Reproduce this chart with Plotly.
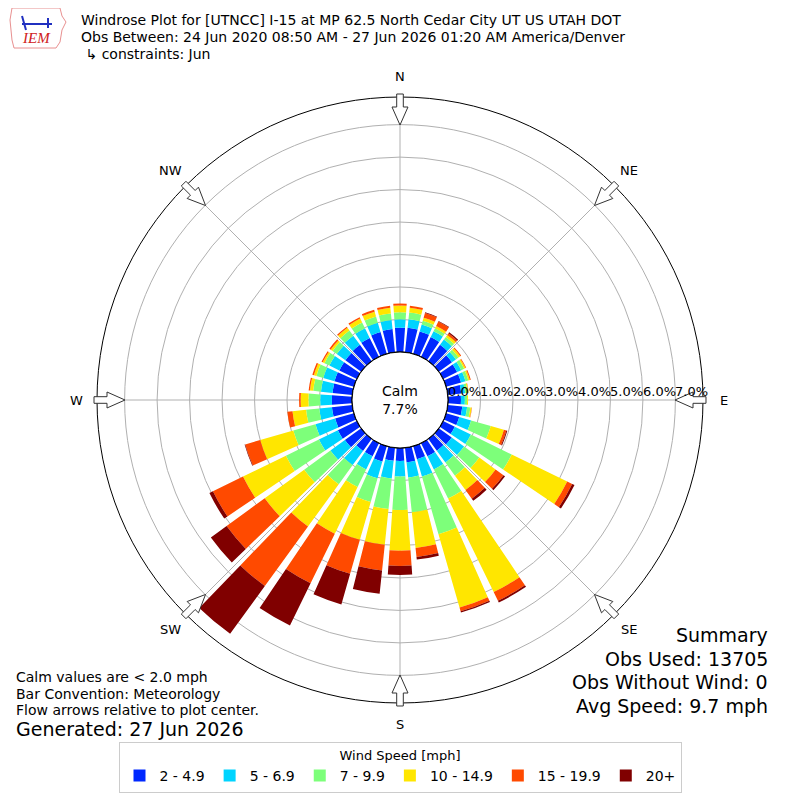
import math
import plotly.graph_objects as go

# wind direction bins (degrees, meteorological) and frequency (%) per speed class
directions = [0, 10, 20, 30, 40, 50, 60, 70, 80, 90, 100, 110, 120, 130, 140, 150, 160, 170,
              180, 190, 200, 210, 220, 230, 240, 250, 260, 270, 280, 290, 300, 310, 320, 330, 340, 350]

spd_2_5 = [0.75, 0.76, 0.72, 0.68, 0.62, 0.50, 0.48, 0.48, 0.42, 0.40, 0.45, 0.42, 0.40, 0.49, 0.45, 0.45, 0.42, 0.45,
           0.40, 0.40, 0.49, 0.45, 0.46, 0.62, 0.65, 0.60, 0.63, 0.62, 0.61, 0.62, 0.60, 0.60, 0.62, 0.65, 0.70, 0.72]
spd_5_7 = [0.26, 0.26, 0.22, 0.20, 0.20, 0.15, 0.14, 0.14, 0.12, 0.12, 0.15, 0.38, 0.55, 0.47, 0.45, 0.45, 0.55, 0.47,
           0.48, 0.55, 0.54, 0.45, 0.54, 0.55, 0.65, 0.63, 0.39, 0.36, 0.36, 0.36, 0.34, 0.33, 0.35, 0.33, 0.30, 0.28]
spd_7_10 = [0.21, 0.21, 0.12, 0.10, 0.10, 0.10, 0.10, 0.09, 0.07, 0.07, 0.10, 0.63, 1.40, 0.58, 0.50, 1.00, 1.85, 1.08,
            1.03, 0.95, 0.76, 0.60, 0.73, 1.00, 1.13, 0.71, 0.41, 0.36, 0.24, 0.22, 0.17, 0.16, 0.20, 0.20, 0.20, 0.20]
spd_10_15 = [0.21, 0.15, 0.10, 0.08, 0.08, 0.07, 0.05, 0.05, 0.03, 0.03, 0.04, 0.42, 1.90, 0.62, 0.55, 3.20, 2.35, 1.10,
             1.25, 1.10, 1.21, 1.60, 1.61, 1.50, 1.47, 1.06, 0.42, 0.24, 0.10, 0.08, 0.06, 0.07, 0.10, 0.13, 0.15, 0.18]
spd_15_20 = [0.06, 0.06, 0.15, 0.15, 0.06, 0.03, 0.02, 0.03, 0.01, 0.00, 0.01, 0.08, 0.17, 0.30, 0.33, 0.30, 0.12, 0.28,
             0.47, 0.80, 1.09, 1.70, 2.26, 1.45, 1.03, 0.48, 0.16, 0.05, 0.04, 0.05, 0.04, 0.05, 0.04, 0.05, 0.06, 0.06]
spd_20p = [0.00, 0.00, 0.02, 0.02, 0.04, 0.00, 0.00, 0.00, 0.00, 0.00, 0.00, 0.03, 0.08, 0.06, 0.08, 0.06, 0.04, 0.08,
           0.28, 0.72, 0.98, 1.45, 1.82, 0.60, 0.12, 0.02, 0.00, 0.00, 0.00, 0.00, 0.00, 0.00, 0.00, 0.00, 0.00, 0.00]

speed_labels = ["2 - 4.9", "5 - 6.9", "7 - 9.9", "10 - 14.9", "15 - 19.9", "20+"]
speed_colors = ["#0028ff", "#00d4ff", "#7dff7a", "#ffe600", "#ff4a00", "#800000"]

compass = ["N", "NE", "E", "SE", "S", "SW", "W", "NW"]
compass_deg = [0, 45, 90, 135, 180, 225, 270, 315]
radial_ticks = [0, 1, 2, 3, 4, 5, 6, 7]
rmax = 7.85

FONT = "DejaVu Sans"
OFF = 8          # page body margin
W = 800 - OFF
CX, CY, R, HOLE = 400, 400, 303, 48   # polar geometry in window pixels


def P(x, y):
    # window pixel -> paper coords
    return (x - OFF) / W, 1 - (y - OFF) / W


fig = go.Figure()
for vals, lab, col in zip([spd_2_5, spd_5_7, spd_7_10, spd_10_15, spd_15_20, spd_20p],
                          speed_labels, speed_colors):
    fig.add_trace(go.Barpolar(r=vals, theta=directions, width=8, name=lab,
                              marker=dict(color=col, line=dict(width=0))))

# calm circle
fig.add_trace(go.Scatterpolar(r=[0] * 361, theta=list(range(361)), mode="lines",
                              line=dict(color="black", width=1.2), showlegend=False, hoverinfo="skip"))

# hollow flow arrows on the outer ring
shapes = []
for d in compass_deg:
    a = math.radians(d)
    ux, uy = math.sin(a), -math.cos(a)
    vx, vy = math.cos(a), math.sin(a)
    pts = [(306, -3.3), (306, 3.3), (293, 3.3), (293, 8), (275, 0), (293, -8), (293, -3.3)]
    path = ""
    for i, (r, w) in enumerate(pts):
        px, py = P(CX + r * ux + w * vx, CY + r * uy + w * vy)
        path += ("M" if i == 0 else "L") + f"{px:.5f},{py:.5f} "
    shapes.append(dict(type="path", xref="paper", yref="paper", path=path + "Z",
                       fillcolor="white", line=dict(color="#333333", width=1), layer="above"))

# simple IEM logo
logo = [(12, 8), (60, 8), (62, 16), (66, 22), (62, 30), (60, 42), (56, 48), (14, 48), (12, 40), (10, 20)]
lp = ""
for i, (x, y) in enumerate(logo):
    px, py = P(x, y)
    lp += ("M" if i == 0 else "L") + f"{px:.5f},{py:.5f} "
shapes.append(dict(type="path", xref="paper", yref="paper", path=lp + "Z",
                   line=dict(color="#e89090", width=1)))
for (x0, y0, x1, y1) in [(22, 24, 52, 24), (48, 18, 48, 28), (22, 16, 26, 30)]:
    a0, b0 = P(x0, y0)
    a1, b1 = P(x1, y1)
    shapes.append(dict(type="line", xref="paper", yref="paper", x0=a0, y0=b0, x1=a1, y1=b1,
                       line=dict(color="#2030c0", width=2)))

annotations = []


def note(x, y, text, size, xanchor="center", **kw):
    px, py = P(x, y)
    annotations.append(dict(x=px, y=py, xref="paper", yref="paper", text=text, showarrow=False,
                            xanchor=xanchor, yanchor="middle", font=dict(size=size, **kw)))


# compass labels
for lab, d in zip(compass, compass_deg):
    a = math.radians(d)
    note(CX + 324 * math.sin(a), CY - 324 * math.cos(a), lab, 13)

# radial tick labels along the east axis
for v in radial_ticks:
    note(CX + HOLE + (R - HOLE) * v / rmax - 2, 391, f"{v:.1f}%", 13, xanchor="left")

note(CX, CY, "Calm<br>7.7%", 14)
note(36, 38, "<i>IEM</i>", 15, color="#d02020", family="Liberation Serif")

title_lines = ["Windrose Plot for [UTNCC] I-15 at MP 62.5 North Cedar City UT US UTAH DOT",
               "Obs Between: 24 Jun 2020 08:50 AM - 27 Jun 2026 01:20 AM America/Denver",
               " \u21b3 constraints: Jun"]
for i, t in enumerate(title_lines):
    note(79, 20 + 17 * i, t, 14, xanchor="left")

left_notes = ["Calm values are < 2.0 mph", "Bar Convention: Meteorology",
              "Flow arrows relative to plot center."]
for i, t in enumerate(left_notes):
    note(14, 677 + 16.5 * i, t, 14, xanchor="left")
note(14, 729, "Generated: 27 Jun 2026", 19, xanchor="left")

summary = ["Summary", "Obs Used: 13705", "Obs Without Wind: 0", "Avg Speed: 9.7 mph"]
for i, t in enumerate(summary):
    note(770, 635 + 23.7 * i, t, 19, xanchor="right")

x0, y1 = P(CX - R, CY - R)
x1, y0 = P(CX + R, CY + R)
lx, ly = P(400, 742)
fig.update_layout(
    width=W, height=W,
    margin=dict(l=0, r=0, t=0, b=0),
    paper_bgcolor="white",
    font=dict(family=FONT, color="black"),
    polar=dict(
        domain=dict(x=[x0, x1], y=[y0, y1]),
        hole=HOLE / R,
        bgcolor="white",
        barmode="stack",
        radialaxis=dict(range=[0, rmax], tickvals=radial_ticks, showticklabels=False,
                        showline=False, ticks="", gridcolor="#b0b0b0", gridwidth=1,
                        angle=0, layer="above traces"),
        angularaxis=dict(rotation=90, direction="clockwise", tickvals=compass_deg,
                         showticklabels=False, ticks="", gridcolor="#b0b0b0", gridwidth=1,
                         showline=True, linecolor="black", linewidth=1, layer="above traces"),
    ),
    legend=dict(orientation="h", x=lx, xanchor="center", y=ly, yanchor="top",
                title=dict(text="Wind Speed [mph]", side="top center", font=dict(size=13)),
                font=dict(size=14), bordercolor="#cccccc", borderwidth=1, bgcolor="white"),
    shapes=shapes,
    annotations=annotations,
)

fig.write_html("out.html")
